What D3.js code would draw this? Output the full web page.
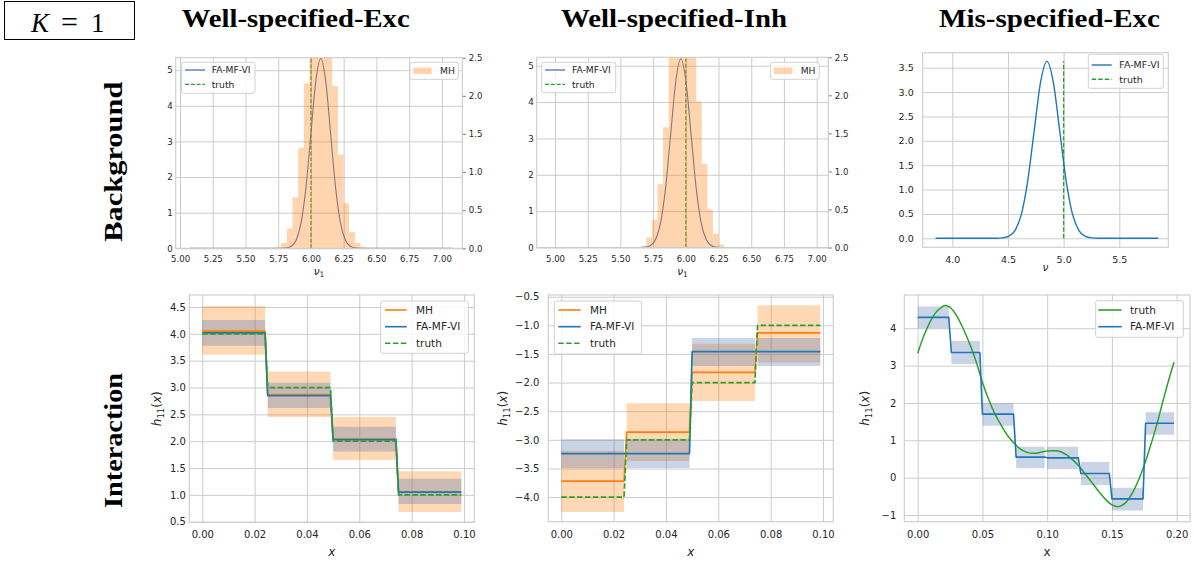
<!DOCTYPE html>
<html><head><meta charset="utf-8">
<script src="https://cdn.jsdelivr.net/npm/d3@7"></script>
<style>body{margin:0;background:#fff}svg{display:block}</style>
</head><body>
<svg id="c" width="1194" height="563"></svg>
<script>
// ---------------- DATA ----------------
const columnTitles = ["Well-specified-Exc", "Well-specified-Inh", "Mis-specified-Exc"];
const rowTitles = ["Background", "Interaction"];

// Panel 1 (Well-specified-Exc, background nu_1)
const p1CurveX = [5.076, 5.70, 5.775, 5.8125, 5.85, 5.8875, 5.925, 5.9625, 6.0, 6.0375, 6.075, 6.1125, 6.15, 6.1875, 6.225, 6.2625, 6.30, 6.3375, 6.375, 6.45, 7.076];
const p1CurveY = [0, 0, 0, 0.012, 0.059, 0.234, 0.72, 1.73, 3.23, 4.70, 5.33, 4.70, 3.23, 1.73, 0.72, 0.234, 0.059, 0.012, 0, 0, 0];
const p1BinEdges = [5.729, 5.772, 5.816, 5.859, 5.902, 5.946, 5.989, 6.032, 6.076, 6.119, 6.162, 6.206, 6.249, 6.292, 6.336, 6.379, 6.422];
const p1BinHeights = [0.02, 0.07, 0.26, 0.67, 1.32, 2.16, 2.75, 3.05, 3.05, 2.75, 2.13, 1.23, 0.59, 0.21, 0.07, 0.02];
const p1Truth = 6.0;

// Panel 2 (Well-specified-Inh, background nu_1)
const p2CurveX = [4.962, 5.60, 5.654, 5.6925, 5.731, 5.7695, 5.808, 5.8465, 5.885, 5.9235, 5.962, 6.0005, 6.039, 6.0775, 6.116, 6.1545, 6.193, 6.2315, 6.27, 6.33, 6.988];
const p2CurveY = [0, 0, 0, 0.011, 0.057, 0.228, 0.70, 1.68, 3.15, 4.58, 5.19, 4.58, 3.15, 1.68, 0.70, 0.228, 0.057, 0.011, 0, 0, 0];
const p2BinEdges = [5.656, 5.698, 5.741, 5.783, 5.826, 5.868, 5.910, 5.953, 5.995, 6.038, 6.080, 6.122, 6.165, 6.207, 6.250, 6.292];
const p2BinHeights = [0.02, 0.13, 0.36, 0.83, 1.58, 2.6, 2.9, 3.0, 2.9, 2.6, 1.92, 1.10, 0.50, 0.18, 0.04];
const p2Truth = 6.0;

// Panel 3 (Mis-specified-Exc, background nu)
const p3CurveX = [3.85, 4.30, 4.39, 4.4475, 4.505, 4.5625, 4.62, 4.6775, 4.735, 4.7925, 4.85, 4.9075, 4.965, 5.0225, 5.08, 5.1375, 5.195, 5.2525, 5.31, 5.40, 5.85];
const p3CurveY = [0, 0, 0, 0.008, 0.040, 0.159, 0.49, 1.18, 2.20, 3.20, 3.63, 3.20, 2.20, 1.18, 0.49, 0.159, 0.040, 0.008, 0, 0, 0];
const p3Truth = 5.0;

// Panels 4/5 step segments (x in [0, 0.1))
const segStartA = [0, 0.025, 0.05, 0.075];
const segEndA   = [0.024, 0.049, 0.074, 0.099];
// Panel 4 (Well-specified-Exc, interaction)
const p4MH = [4.05, 2.87, 2.04, 1.05];
const p4MHLo = [3.61, 2.45, 1.65, 0.68];
const p4MHHi = [4.52, 3.30, 2.45, 1.44];
const p4VI = [4.02, 2.85, 2.03, 1.05];
const p4VILo = [3.78, 2.62, 1.81, 0.83];
const p4VIHi = [4.26, 3.09, 2.27, 1.30];
const p4True = [4, 3, 2, 1];
// Panel 5 (Well-specified-Inh, interaction)
const p5MH = [-3.72, -2.865, -1.82, -1.13];
const p5MHLo = [-4.26, -3.37, -2.32, -1.65];
const p5MHHi = [-3.19, -2.36, -1.32, -0.65];
const p5VI = [-3.24, -3.24, -1.46, -1.46];
const p5VILo = [-3.49, -3.49, -1.71, -1.71];
const p5VIHi = [-2.99, -2.99, -1.22, -1.22];
const p5True = [-4, -3, -2, -1];
// Panel 6 (Mis-specified-Exc, interaction)
const segStartB = [0, 0.026, 0.05, 0.076, 0.1, 0.126, 0.15, 0.176];
const segEndB   = [0.024, 0.048, 0.074, 0.098, 0.124, 0.148, 0.174, 0.198];
const p6VI = [4.29, 3.35, 1.70, 0.55, 0.53, 0.11, -0.57, 1.455];
const p6VILo = [4.00, 3.04, 1.39, 0.25, 0.23, -0.20, -0.88, 1.15];
const p6VIHi = [4.58, 3.66, 1.99, 0.83, 0.83, 0.42, -0.27, 1.75];
const p6TruthX = [0, 0.005, 0.010, 0.015, 0.021, 0.025, 0.030, 0.035, 0.040, 0.045, 0.050, 0.055, 0.060, 0.065, 0.070, 0.075, 0.080, 0.085, 0.090, 0.095, 0.100, 0.105, 0.110, 0.115, 0.120, 0.125, 0.130, 0.135, 0.140, 0.145, 0.150, 0.155, 0.160, 0.165, 0.170, 0.175, 0.180, 0.185, 0.190, 0.195, 0.198];
const p6TruthY = [3.33, 3.82, 4.20, 4.46, 4.61, 4.56, 4.34, 4.00, 3.60, 3.12, 2.55, 2.08, 1.68, 1.37, 1.10, 0.90, 0.75, 0.67, 0.65, 0.68, 0.71, 0.72, 0.70, 0.61, 0.47, 0.29, 0.07, -0.15, -0.38, -0.58, -0.73, -0.78, -0.69, -0.46, -0.11, 0.34, 0.875, 1.46, 2.13, 2.75, 3.09];

// Tick values
const ticksNu = [5.00, 5.25, 5.50, 5.75, 6.00, 6.25, 6.50, 6.75, 7.00];
const ticksDensL = [0, 1, 2, 3, 4, 5];
const ticksDensR = [0.0, 0.5, 1.0, 1.5, 2.0, 2.5];
const ticksNu3 = [4.0, 4.5, 5.0, 5.5];
const ticksDens3 = [0.0, 0.5, 1.0, 1.5, 2.0, 2.5, 3.0, 3.5];
const ticksXA = [0.00, 0.02, 0.04, 0.06, 0.08, 0.10];
const ticksY4 = [0.5, 1.0, 1.5, 2.0, 2.5, 3.0, 3.5, 4.0, 4.5];
const ticksY5 = [-4.0, -3.5, -3.0, -2.5, -2.0, -1.5, -1.0, -0.5];
const ticksXB = [0.00, 0.05, 0.10, 0.15, 0.20];
const ticksY6 = [-1, 0, 1, 2, 3, 4];

// ---------------- STYLE ----------------
const C_OR = "#ff7f0e", C_BL = "#1f77b4", C_GR = "#2ca02c", C_BLD = "#4c72b0";
const GRID = "#cccccc", TXT = "#262626";
const svg = d3.select("#c");
let clipN = 0;

function makePanel(box, xd, yd) {
  const x = d3.scaleLinear().domain(xd).range([box.x0, box.x1]);
  const y = d3.scaleLinear().domain(yd).range([box.y1, box.y0]);
  const id = "clip" + (++clipN);
  svg.append("clipPath").attr("id", id).append("rect")
    .attr("x", box.x0).attr("y", box.y0).attr("width", box.x1 - box.x0).attr("height", box.y1 - box.y0);
  const g = svg.append("g");
  return {box, x, y, g, clip: `url(#${id})`};
}
function styleAxis(sel, fs) {
  sel.attr("font-family", "DejaVu Sans").attr("font-size", fs);
  sel.select(".domain").remove();
  sel.selectAll(".tick line").attr("stroke", GRID).attr("stroke-width", 1);
  sel.selectAll(".tick text").attr("fill", TXT);
}
function gridAxes(P, xt, xf, yt, yf, fs, xpad, ypad) {
  const b = P.box;
  P.g.append("g").attr("transform", `translate(0,${b.y1})`)
    .call(d3.axisBottom(P.x).tickValues(xt).tickFormat(xf).tickSize(-(b.y1 - b.y0)).tickPadding(xpad))
    .call(s => styleAxis(s, fs));
  P.g.append("g").attr("transform", `translate(${b.x0},0)`)
    .call(d3.axisLeft(P.y).tickValues(yt).tickFormat(yf).tickSize(-(b.x1 - b.x0)).tickPadding(ypad))
    .call(s => styleAxis(s, fs));
}
function frame(P) {
  const b = P.box;
  svg.append("rect").attr("x", b.x0).attr("y", b.y0).attr("width", b.x1 - b.x0).attr("height", b.y1 - b.y0)
    .attr("fill", "none").attr("stroke", GRID).attr("stroke-width", 1.1);
}
function drawLegend(b, entries, o) {
  const g = svg.append("g");
  g.append("rect").attr("x", b.x).attr("y", b.y).attr("width", b.w).attr("height", b.h).attr("rx", 2)
    .attr("fill", "#fff").attr("fill-opacity", 0.8).attr("stroke", GRID).attr("stroke-width", 0.9);
  entries.forEach((e, i) => {
    const yy = o.rows[i];
    if (e.kind === "patch") {
      g.append("rect").attr("x", o.hx0).attr("y", yy - o.ph / 2).attr("width", o.hx1 - o.hx0).attr("height", o.ph)
        .attr("fill", e.color).attr("fill-opacity", e.op);
    } else {
      g.append("line").attr("x1", o.hx0).attr("x2", o.hx1).attr("y1", yy).attr("y2", yy)
        .attr("stroke", e.color).attr("stroke-width", o.lw)
        .attr("stroke-dasharray", e.kind === "dash" ? o.dash : null);
    }
    g.append("text").attr("x", o.tx).attr("y", yy).attr("dy", "0.36em")
      .attr("font-family", "DejaVu Sans").attr("font-size", o.fs).attr("fill", TXT).text(e.label);
  });
}

// ---------------- TOP ROW ----------------
function topDensity(box, xd, ydL, cx, cy, truth, opts) {
  const P = makePanel(box, xd, ydL);
  gridAxes(P, opts.xt, opts.xf, opts.yt, opts.yf, opts.fs, opts.xpad, opts.ypad);
  const pts = cx.map((v, i) => [v, cy[i]]);
  P.g.append("line").attr("x1", P.x(truth)).attr("x2", P.x(truth))
    .attr("y1", P.y(0)).attr("y2", P.y(d3.max(cy)))
    .attr("stroke", C_GR).attr("stroke-width", opts.tlw).attr("stroke-dasharray", opts.dash).attr("clip-path", P.clip);
  P.g.append("path").datum(pts).attr("clip-path", P.clip)
    .attr("d", d3.line().x(d => P.x(d[0])).y(d => P.y(d[1])).curve(d3.curveMonotoneX))
    .attr("fill", "none").attr("stroke", opts.lineColor).attr("stroke-width", opts.lw);
  return P;
}
function addHist(P, edges, heights, ydR, fs) {
  const yR = d3.scaleLinear().domain(ydR).range([P.box.y1, P.box.y0]);
  const pts = heights.map((h, i) => [edges[i], h]);
  pts.push([edges[edges.length - 1], heights[heights.length - 1]]);
  svg.append("path").datum(pts).attr("clip-path", P.clip)
    .attr("d", d3.area().x(d => P.x(d[0])).y0(yR(0)).y1(d => yR(d[1])).curve(d3.curveStepAfter))
    .attr("fill", C_OR).attr("fill-opacity", 0.33);
  const ax = svg.append("g").attr("transform", `translate(${P.box.x1},0)`)
    .call(d3.axisRight(yR).tickValues(ticksDensR).tickFormat(d3.format(".1f")).tickSize(3.5).tickPadding(3));
  ax.attr("font-family", "DejaVu Sans").attr("font-size", fs);
  ax.select(".domain").remove();
  ax.selectAll(".tick line").attr("stroke", "#555").attr("stroke-width", 0.8);
  ax.selectAll(".tick text").attr("fill", TXT);
  return yR;
}
function nuLabel(x, y, sub) {
  const t = svg.append("text").attr("x", x).attr("y", y).attr("text-anchor", "middle")
    .attr("font-family", "DejaVu Sans").attr("font-size", 10.5).attr("fill", TXT);
  t.append("tspan").attr("font-style", "italic").text("ν");
  if (sub) t.append("tspan").attr("font-size", 7.5).attr("dy", 2.5).text(sub);
}

const topOpts = {xt: ticksNu, xf: d3.format(".2f"), yt: ticksDensL, yf: d3.format("d"), fs: 8.6, xpad: 8, ypad: 3,
  tlw: 1.2, dash: "4,1.8", lineColor: C_BLD, lw: 1.1};

// Panel 1
const P1 = topDensity({x0: 175.7, x1: 462.3, y0: 57.7, y1: 248.3}, [4.967, 7.156], [0, 5.35], p1CurveX, p1CurveY, p1Truth, topOpts);
drawLegend({x: 181.7, y: 62.3, w: 73.3, h: 31}, [
  {kind: "line", color: C_BLD, label: "FA-MF-VI"}, {kind: "dash", color: C_GR, label: "truth"}],
  {rows: [70, 84.3], hx0: 185, hx1: 205, tx: 211.7, fs: 9.2, lw: 1.3, dash: "4,1.8"});
addHist(P1, p1BinEdges, p1BinHeights, [0, 2.5], 8.6);
drawLegend({x: 410, y: 62.3, w: 48.3, h: 17}, [{kind: "patch", color: C_OR, op: 0.33, label: "MH"}],
  {rows: [70.8], hx0: 413.3, hx1: 431.7, ph: 6.5, tx: 440, fs: 9.2});
frame(P1);
nuLabel(319, 274.5, "1");

// Panel 2
const P2 = topDensity({x0: 536.7, x1: 828.3, y0: 57.3, y1: 247.5}, [4.860, 7.089], [0, 5.231], p2CurveX, p2CurveY, p2Truth, topOpts);
drawLegend({x: 541.7, y: 62.3, w: 74, h: 30.4}, [
  {kind: "line", color: C_BLD, label: "FA-MF-VI"}, {kind: "dash", color: C_GR, label: "truth"}],
  {rows: [70, 84.3], hx0: 545, hx1: 565, tx: 572, fs: 9.2, lw: 1.3, dash: "4,1.8"});
addHist(P2, p2BinEdges, p2BinHeights, [0, 2.5], 8.6);
drawLegend({x: 770.7, y: 62.3, w: 48.6, h: 17}, [{kind: "patch", color: C_OR, op: 0.33, label: "MH"}],
  {rows: [70.8], hx0: 774, hx1: 792.4, ph: 6.5, tx: 800.7, fs: 9.2});
frame(P2);
nuLabel(682.5, 274.5, "1");

// Panel 3
const P3 = topDensity({x0: 922.7, x1: 1168.3, y0: 52.7, y1: 247.3}, [3.734, 5.940], [-0.185, 3.808], p3CurveX, p3CurveY, p3Truth,
  {xt: ticksNu3, xf: d3.format(".1f"), yt: ticksDens3, yf: d3.format(".1f"), fs: 9.5, xpad: 8.5, ypad: 9,
   tlw: 1.3, dash: "4.5,2", lineColor: C_BL, lw: 1.4});
drawLegend({x: 1088.3, y: 54.3, w: 75, h: 34}, [
  {kind: "line", color: C_BL, label: "FA-MF-VI"}, {kind: "dash", color: C_GR, label: "truth"}],
  {rows: [65, 79.3], hx0: 1091.7, hx1: 1111.7, tx: 1119.3, fs: 9.5, lw: 1.4, dash: "4.5,2"});
frame(P3);
nuLabel(1045.5, 270.5, null);

// ---------------- BOTTOM ROW ----------------
function stepPts(starts, ends, vals) {
  const p = [];
  vals.forEach((v, i) => { p.push([starts[i], v]); p.push([ends[i], v]); });
  return p;
}
function bands(P, starts, ends, lo, hi, color, op) {
  const area = d3.area().x(d => P.x(d[0])).y0(d => P.y(d[1])).y1(d => P.y(d[2]));
  starts.forEach((s, i) => {
    P.g.append("path").datum([[s, lo[i], hi[i]], [ends[i], lo[i], hi[i]]]).attr("clip-path", P.clip)
      .attr("d", area).attr("fill", color).attr("fill-opacity", op);
  });
}
function stepLine(P, starts, ends, vals, color, lw, dash) {
  P.g.append("path").datum(stepPts(starts, ends, vals)).attr("clip-path", P.clip)
    .attr("d", d3.line().x(d => P.x(d[0])).y(d => P.y(d[1])))
    .attr("fill", "none").attr("stroke", color).attr("stroke-width", lw)
    .attr("stroke-dasharray", dash || null).attr("stroke-linejoin", "round");
}
function hLabel(x, y) {
  const t = svg.append("text").attr("transform", `translate(${x},${y}) rotate(-90)`).attr("text-anchor", "middle")
    .attr("font-family", "DejaVu Sans").attr("font-size", 12).attr("fill", TXT);
  t.append("tspan").attr("font-style", "italic").text("h");
  t.append("tspan").attr("font-size", 8.5).attr("dy", 3).text("11");
  t.append("tspan").attr("dy", -3).text("(");
  t.append("tspan").attr("font-style", "italic").text("x");
  t.append("tspan").text(")");
}
function xLabel(x, y, italic) {
  svg.append("text").attr("x", x).attr("y", y).attr("text-anchor", "middle")
    .attr("font-family", "DejaVu Sans").attr("font-size", 12).attr("fill", TXT)
    .attr("font-style", italic ? "italic" : "normal").text("x");
}
const DASH = "5.5,2.4";
const botLeg = {hx0: 0, hx1: 0, fs: 10.5, lw: 1.6, dash: DASH};

// Panel 4
const P4 = makePanel({x0: 189.3, x1: 474.3, y0: 295, y1: 522.3}, [-0.00495, 0.10395], [0.489, 4.724]);
gridAxes(P4, ticksXA, d3.format(".2f"), ticksY4, d3.format(".1f"), 10, 9, 3.5);
bands(P4, segStartA, segEndA, p4MHLo, p4MHHi, C_OR, 0.3);
bands(P4, segStartA, segEndA, p4VILo, p4VIHi, C_BLD, 0.3);
stepLine(P4, segStartA, segEndA, p4MH, C_OR, 1.7);
stepLine(P4, segStartA, segEndA, p4VI, C_BL, 1.7);
stepLine(P4, segStartA, segEndA, p4True, C_GR, 1.7, DASH);
frame(P4);
drawLegend({x: 380.7, y: 301, w: 87.6, h: 52.3}, [
  {kind: "line", color: C_OR, label: "MH"}, {kind: "line", color: C_BL, label: "FA-MF-VI"}, {kind: "dash", color: C_GR, label: "truth"}],
  Object.assign({}, botLeg, {rows: [310, 326.7, 343.3], hx0: 385, hx1: 406.7, tx: 416}));
xLabel(331.8, 555.5, true);
hLabel(160.5, 408.7);

// Panel 5
const P5 = makePanel({x0: 548.3, x1: 833.3, y0: 295, y1: 521.7}, [-0.00495, 0.10395], [-4.43, -0.47]);
gridAxes(P5, ticksXA, d3.format(".2f"), ticksY5, d3.format(".1f"), 10, 9, 9);
bands(P5, segStartA, segEndA, p5MHLo, p5MHHi, C_OR, 0.3);
bands(P5, segStartA, segEndA, p5VILo, p5VIHi, C_BLD, 0.3);
stepLine(P5, segStartA, segEndA, p5MH, C_OR, 1.7);
stepLine(P5, segStartA, segEndA, p5VI, C_BL, 1.7);
stepLine(P5, segStartA, segEndA, p5True, C_GR, 1.7, DASH);
frame(P5);
drawLegend({x: 554.3, y: 301, w: 87.4, h: 53}, [
  {kind: "line", color: C_OR, label: "MH"}, {kind: "line", color: C_BL, label: "FA-MF-VI"}, {kind: "dash", color: C_GR, label: "truth"}],
  Object.assign({}, botLeg, {rows: [310, 326.7, 343.3], hx0: 558.3, hx1: 580.7, tx: 590}));
xLabel(690.8, 555.5, true);
hLabel(507, 408.3);

// Panel 6
const P6 = makePanel({x0: 904.3, x1: 1190, y0: 295, y1: 521.7}, [-0.01035, 0.2103], [-1.18, 4.89]);
gridAxes(P6, ticksXB, d3.format(".2f"), ticksY6, d3.format("d"), 10, 9.5, 8);
bands(P6, segStartB, segEndB, p6VILo, p6VIHi, C_BLD, 0.3);
P6.g.append("path").datum(p6TruthX.map((v, i) => [v, p6TruthY[i]])).attr("clip-path", P6.clip)
  .attr("d", d3.line().x(d => P6.x(d[0])).y(d => P6.y(d[1])).curve(d3.curveCatmullRom))
  .attr("fill", "none").attr("stroke", C_GR).attr("stroke-width", 1.5);
stepLine(P6, segStartB, segEndB, p6VI, C_BL, 1.6);
frame(P6);
drawLegend({x: 1095.7, y: 300.7, w: 87.6, h: 36.6}, [
  {kind: "line", color: C_GR, label: "truth"}, {kind: "line", color: C_BL, label: "FA-MF-VI"}],
  Object.assign({}, botLeg, {rows: [310, 326.7], hx0: 1098.3, hx1: 1121.7, tx: 1130}));
xLabel(1047, 555.5, false);
hLabel(869, 408.3);

// ---------------- TITLES ----------------
const titleX = [295.7, 674, 1049.5];
const titleLen = [228, 226, 221];
columnTitles.forEach((t, i) => {
  svg.append("text").attr("x", titleX[i]).attr("y", 27).attr("text-anchor", "middle")
    .attr("font-family", "Liberation Serif").attr("font-weight", "bold").attr("font-size", 26)
    .attr("textLength", titleLen[i]).attr("lengthAdjust", "spacingAndGlyphs").attr("fill", "#000").text(t);
});
const rowY = [161.7, 440.5], rowLen = [160, 135];
rowTitles.forEach((t, i) => {
  svg.append("text").attr("transform", `translate(121.5,${rowY[i]}) rotate(-90)`).attr("text-anchor", "middle")
    .attr("font-family", "Liberation Serif").attr("font-weight", "bold").attr("font-size", 26)
    .attr("textLength", rowLen[i]).attr("lengthAdjust", "spacingAndGlyphs").attr("fill", "#000").text(t);
});
// K = 1 box
svg.append("rect").attr("x", 4.5).attr("y", 1.5).attr("width", 130).attr("height", 38)
  .attr("fill", "none").attr("stroke", "#000").attr("stroke-width", 1);
const kt = svg.append("g").attr("font-family", "Liberation Serif").attr("font-size", 27).attr("fill", "#000");
kt.append("text").attr("x", 31).attr("y", 31.5).attr("font-style", "italic").text("K");
kt.append("text").attr("x", 61).attr("y", 31.5).attr("font-size", 30).text("=");
kt.append("text").attr("x", 91).attr("y", 31.5).text("1");
</script>
</body></html>
